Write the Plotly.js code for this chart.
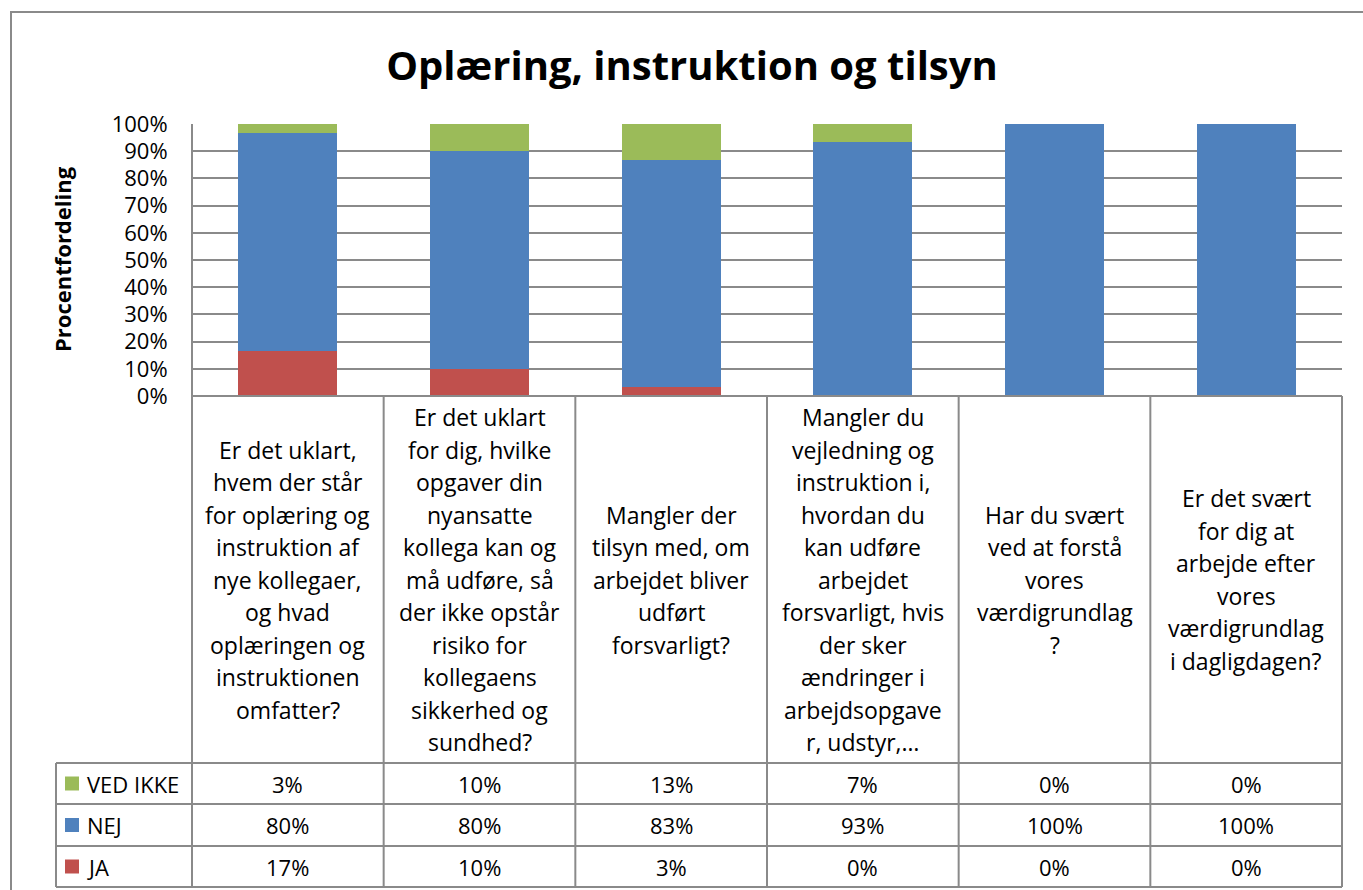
<!DOCTYPE html>
<html>
<head>
<meta charset="utf-8">
<script src="https://cdn.plot.ly/plotly-3.0.1.min.js"></script>
<style>html,body{margin:0;padding:0;background:#fff;}#chart{width:1363px;height:890px;}</style>
</head>
<body>
<div id="chart"></div>
<script>
// ---- data ----
var chartTitle = "Oplæring, instruktion og tilsyn";
var yTitle = "Procentfordeling";
var categoryLines = [
  ["Er det uklart,", "hvem der står", "for oplæring og", "instruktion af", "nye kollegaer,", "og hvad", "oplæringen og", "instruktionen", "omfatter?"],
  ["Er det uklart", "for dig, hvilke", "opgaver din", "nyansatte", "kollega kan og", "må udføre, så", "der ikke opstår", "risiko for", "kollegaens", "sikkerhed og", "sundhed?"],
  ["Mangler der", "tilsyn med, om", "arbejdet bliver", "udført", "forsvarligt?"],
  ["Mangler du", "vejledning og", "instruktion i,", "hvordan du", "kan udføre", "arbejdet", "forsvarligt, hvis", "der sker", "ændringer i", "arbejdsopgave", "r, udstyr,…"],
  ["Har du svært", "ved at forstå", "vores", "værdigrundlag", "?"],
  ["Er det svært", "for dig at", "arbejde efter", "vores", "værdigrundlag", "i dagligdagen?"]
];
var seriesNames = ["JA", "NEJ", "VED IKKE"];
var jaValues = [16.67, 10, 3.33, 0, 0, 0];
var nejValues = [80, 80, 83.33, 93.33, 100, 100];
var vedIkkeValues = [3.33, 10, 13.33, 6.67, 0, 0];
var seriesColors = ["#C0504D", "#4F81BD", "#9BBB59"];

// ---- geometry (pixels) ----
var W = 1363, H = 890;
var L = 192, R = 1342, T = 124, AXB = 396, HB = 763, TB = 887;
var TL = 56; // table legend column left edge
var plotW = R - L, plotH = TB - T;
function px(x) { return (x - L) / plotW; }
function py(y) { return (TB - y) / plotH; }

var FONT = "'Open Sans', 'Noto Sans', 'Liberation Sans', sans-serif";
var GRID = "#8a8a8a";
var categories = categoryLines.map(function (l) { return l.join(" "); });
var n = categories.length;

var seriesValues = [jaValues, nejValues, vedIkkeValues];
var traces = seriesValues.map(function (vals, i) {
  return {
    type: "bar", x: categories, y: vals, name: seriesNames[i],
    marker: { color: seriesColors[i], line: { width: 0 } },
    showlegend: false, hoverinfo: "x+y"
  };
});

var shapes = [];
var annotations = [];
function hline(x0, x1, y) {
  shapes.push({ type: "line", xref: "paper", yref: "paper", x0: px(x0), x1: px(x1), y0: py(y), y1: py(y), line: { color: GRID, width: 2 } });
}
function vline(x, y0, y1) {
  shapes.push({ type: "line", xref: "paper", yref: "paper", x0: px(x), x1: px(x), y0: py(y0), y1: py(y1), line: { color: GRID, width: 2 } });
}
// outer chart frame
shapes.push({ type: "rect", xref: "paper", yref: "paper", x0: px(11), x1: px(1375), y0: py(12), y1: py(905), line: { color: GRID, width: 2 }, fillcolor: "rgba(0,0,0,0)" });

// table grid
hline(L, R, AXB);
hline(TL, R, HB);
hline(TL, R, 804);
hline(TL, R, 846);
hline(TL, R, TB);
vline(TL, HB, TB);
vline(L, T, TB);
for (var k = 1; k <= n; k++) {
  vline(L + k * plotW / n, AXB, TB);
}

// category header labels (one annotation per line)
var LH = 32.5;
var headerMid = (AXB + HB) / 2;
categoryLines.forEach(function (lines, i) {
  var start = headerMid - (lines.length - 1) * LH / 2;
  lines.forEach(function (t, j) {
    annotations.push({
      xref: "x", yref: "paper", x: categories[i], y: py(start + j * LH),
      text: t, showarrow: false, xanchor: "center", yanchor: "middle",
      font: { family: FONT, size: 23, color: "#000" }
    });
  });
});

// data table rows (top to bottom: VED IKKE, NEJ, JA)
var rowCenters = [783.5, 825, 866.5];
var rowOrder = [2, 1, 0];
rowOrder.forEach(function (si, r) {
  var yc = rowCenters[r];
  shapes.push({ type: "rect", xref: "paper", yref: "paper", x0: px(65), x1: px(79), y0: py(yc - 7), y1: py(yc + 7), line: { width: 0 }, fillcolor: seriesColors[si] });
  annotations.push({
    xref: "paper", yref: "paper", x: px(85), y: py(yc), text: seriesNames[si], showarrow: false,
    xanchor: "left", yanchor: "middle", font: { family: FONT, size: 22, color: "#000" }
  });
  seriesValues[si].forEach(function (v, i) {
    annotations.push({
      xref: "x", yref: "paper", x: categories[i], y: py(yc), text: Math.round(v) + "%", showarrow: false,
      xanchor: "center", yanchor: "middle", font: { family: FONT, size: 22, color: "#000" }
    });
  });
});

// y axis title
annotations.push({
  xref: "paper", yref: "paper", x: px(62), y: py(259), text: "<b>" + yTitle + "</b>", textangle: -90,
  showarrow: false, xanchor: "center", yanchor: "middle", font: { family: FONT, size: 22, color: "#000" }
});

var layout = {
  width: W, height: H,
  paper_bgcolor: "#fff", plot_bgcolor: "#fff",
  margin: { l: L, r: W - R, t: T, b: H - TB, pad: 0 },
  title: { text: "<b>" + chartTitle + "</b>", xref: "paper", x: px(692), xanchor: "center", yref: "container", y: 1 - 66 / H, yanchor: "middle", font: { family: FONT, size: 40, color: "#000" } },
  barmode: "stack", bargap: 0.484,
  xaxis: { type: "category", categoryorder: "array", categoryarray: categories, range: [-0.5, n - 0.5], showticklabels: false, showgrid: false, zeroline: false, showline: false, ticks: "", fixedrange: true },
  yaxis: {
    domain: [py(AXB), 1], range: [0, 100], dtick: 10, ticksuffix: "%",
    showgrid: true, gridcolor: GRID, gridwidth: 2, zeroline: false, showline: false,
    ticks: "outside", ticklen: 19, tickcolor: "rgba(0,0,0,0)",
    tickfont: { family: FONT, size: 22, color: "#000" }, fixedrange: true
  },
  shapes: shapes,
  annotations: annotations,
  showlegend: false
};

Plotly.newPlot("chart", traces, layout, { displayModeBar: false, staticPlot: true });
</script>
</body>
</html>
